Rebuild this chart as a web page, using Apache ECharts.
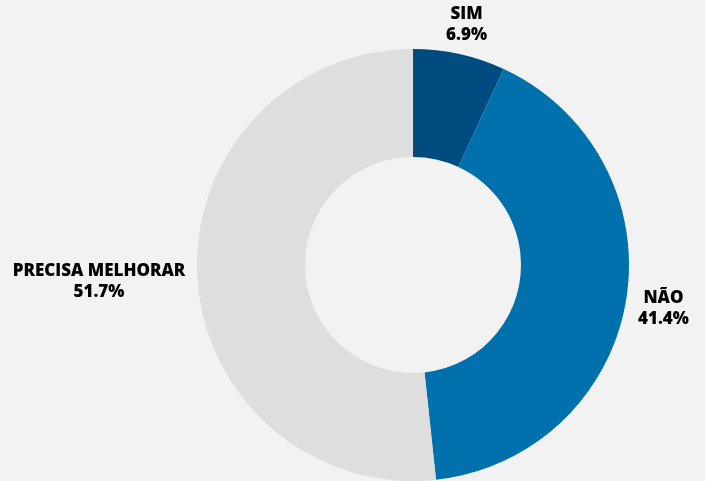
<!DOCTYPE html>
<html>
<head>
<meta charset="utf-8">
<script src="https://cdn.jsdelivr.net/npm/echarts@6/dist/echarts.min.js"></script>
<style>
html,body{margin:0;padding:0;background:#f2f2f2;}
#c{width:705px;height:481px;}
</style>
</head>
<body>
<div id="c"></div>
<script>
const categories = ['SIM', 'NÃO', 'PRECISA MELHORAR'];
const values = [6.9, 41.4, 51.7];
const colors = ['#004b80', '#0071ad', '#dedede'];

const CX = 413, CY = 265, R_IN = 108, R_OUT = 216, GAP = 12;
const total = values.reduce((a, b) => a + b, 0);

const chart = echarts.init(document.getElementById('c'), null, {renderer: 'canvas'});
chart.setOption({
  backgroundColor: '#f2f2f2',
  animation: false,
  series: [{
    type: 'pie',
    center: [CX, CY],
    radius: [R_IN, R_OUT],
    startAngle: 90,
    clockwise: true,
    avoidLabelOverlap: false,
    data: categories.map((c, i) => ({name: c, value: values[i], itemStyle: {color: colors[i]}})),
    label: {
      show: true,
      position: 'outside',
      formatter: p => p.name + '\n' + values[p.dataIndex].toFixed(1) + '%',
      fontFamily: 'Open Sans',
      fontWeight: 800,
      fontSize: 17,
      lineHeight: 21,
      color: '#000'
    },
    labelLine: {show: false},
    labelLayout: function (params) {
      const i = params.dataIndex;
      let before = 0;
      for (let k = 0; k < i; k++) before += values[k];
      const mid = (before + values[i] / 2) / total * 2 * Math.PI;
      const dx = Math.sin(mid), dy = -Math.cos(mid);
      const m = Math.max(Math.abs(dx), Math.abs(dy));
      const w = params.labelRect.width, h = params.labelRect.height;
      const x = CX + dx * (R_OUT + GAP) + (w / 2) * dx / m;
      const y = CY + dy * (R_OUT + GAP) + (h / 2) * dy / m + 3;
      return {x: x, y: y, align: 'center', verticalAlign: 'middle'};
    }
  }]
});
</script>
</body>
</html>
